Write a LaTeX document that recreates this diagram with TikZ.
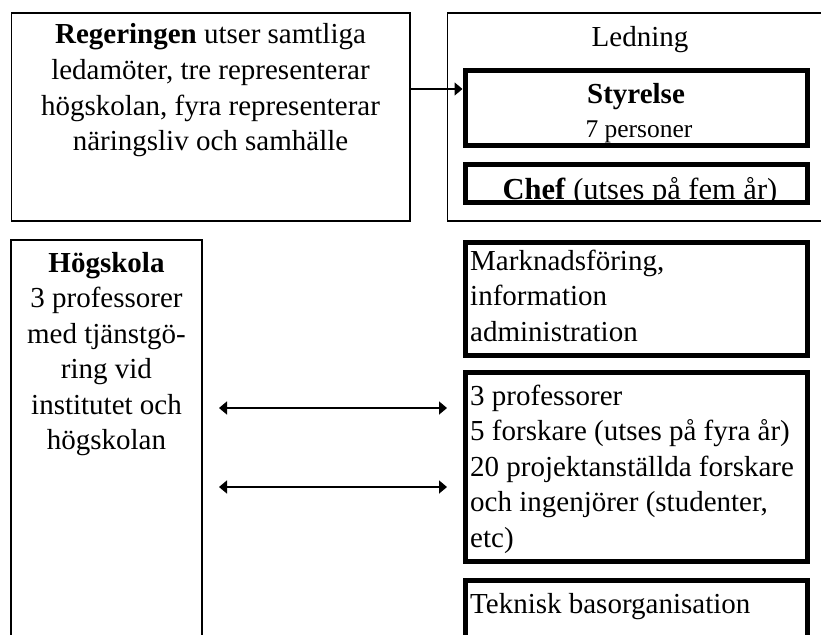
\documentclass[tikz,border=0pt]{standalone}
\usepackage{fontspec}
\setmainfont{Liberation Serif}
\usetikzlibrary{arrows.meta}
\tikzset{
  thinbox/.style={draw, line width=1.5pt, inner sep=0pt, anchor=north west},
  thickbox/.style={draw, line width=5pt, inner sep=0pt, anchor=north west, minimum width=342.5pt},
  txt/.style={inner sep=0pt, font=\fontsize{29}{35.5}\selectfont},
  arr/.style={line width=1.6pt, -{Triangle[length=8pt,width=13pt]}},
  darr/.style={line width=1.6pt, {Triangle[length=8pt,width=13pt]}-{Triangle[length=8pt,width=13pt]}},
}
\newcommand{\mycbox}[2]{\parbox[t]{#1}{\centering #2}}
\newcommand{\mylbox}[2]{\parbox[t]{#1}{\raggedright #2}}
\begin{document}
\begin{tikzpicture}[x=1pt,y=-1pt]
\clip (0,0) rectangle (821,634);
% texts
\node[txt, anchor=base] (treg) at (210.5,44) {\mycbox{395pt}{\textbf{Regeringen} utser samtliga\\ledamöter, tre representerar\\högskolan, fyra representerar\\näringsliv och samhälle}};
\node[txt, anchor=base] (tled) at (640,46) {Ledning};
\node[txt, anchor=base] (tstyr) at (636,103) {\textbf{Styrelse}};
\begin{scope}
  \clip (462.5,68) rectangle (810,143);
  \node[inner sep=0pt, anchor=base, font=\fontsize{25.5}{30}\selectfont] (tpers) at (639,137) {7 personer};
\end{scope}
\begin{scope}
  \clip (462.5,161.5) rectangle (810,200);
  \node[inner sep=0pt, anchor=base, font=\fontsize{30.5}{36}\selectfont] (tchef) at (640,199) {\textbf{Chef} (utses på fem år)};
\end{scope}
\node[txt, anchor=base] (thog) at (106.5,272) {\mycbox{185pt}{\textbf{Högskola}\\3 professorer\\med tjänstgö-\\ring vid\\institutet och\\högskolan}};
\node[txt, anchor=base west] (tmark) at (470,270) {\mylbox{335pt}{Marknadsföring,\\information\\administration}};
\node[txt, anchor=base west] (tprof) at (470,405) {\mylbox{335pt}{3 professorer\\5 forskare (utses på fyra år)\\20 projektanställda forskare\\och ingenjörer (studenter,\\etc)}};
\node[txt, anchor=base west] (ttek) at (470,613) {Teknisk basorganisation};
% boxes
\node[thinbox, minimum width=398.5pt, minimum height=207.5pt] (reg) at (10.5,12.5) {};
\node[thinbox, minimum width=392pt, minimum height=207.5pt] (led) at (446.5,12.5) {};
\node[thinbox, line width=2pt, minimum width=191pt, minimum height=419pt] (hog) at (10,239) {};
\node[thickbox, minimum height=75pt] (styr) at (462.5,68) {};
\node[thickbox, minimum height=38.5pt] (chef) at (462.5,161.5) {};
\node[thickbox, minimum height=112.5pt] (mark) at (462.5,240) {};
\node[thickbox, minimum height=189pt] (prof) at (462.5,370) {};
\node[thickbox, minimum height=117pt] (tek) at (462.5,578) {};
% connectors
\coordinate (a1) at (0,89);
\coordinate (b1) at (0,408);
\coordinate (b2) at (0,487);
\draw[arr] (reg.east |- a1) -- (styr.west |- a1);
\draw[darr, shorten <=16pt, shorten >=15.5pt] (hog.east |- b1) -- (prof.west |- b1);
\draw[darr, shorten <=16pt, shorten >=15.5pt] (hog.east |- b2) -- (prof.west |- b2);
\end{tikzpicture}
\end{document}
